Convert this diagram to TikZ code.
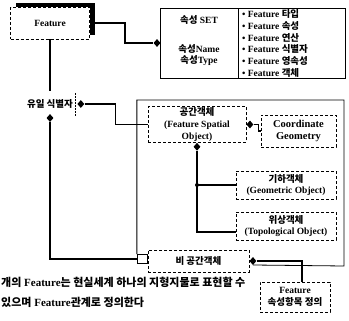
\documentclass[tikz,border=0pt]{standalone}
\usepackage{fontspec}
\setmainfont{Liberation Serif}
\newfontfamily\krfont{Noto Sans CJK KR}
\newcommand{\kr}[1]{{\krfont #1}}
\newcommand{\lblfont}{\fontsize{9.5}{11.8}\selectfont\bfseries}
\newcommand{\notefont}{\fontsize{11}{13}\selectfont\bfseries}
\usetikzlibrary{shapes.geometric}
\begin{document}
\begin{tikzpicture}[x=1pt,y=-1pt,
  box/.style={draw, line width=0.5pt, densely dashed, fill=white, inner sep=1pt, align=center, font=\lblfont},
  abox/.style={draw, line width=0.6pt, inner sep=0pt},
  txt/.style={inner sep=0pt, font=\lblfont},
  conn/.style={line width=1.6pt},
  framel/.style={line width=0.8pt},
  dia/.style={diamond, fill=black, inner sep=0pt, minimum width=7pt, minimum height=8pt},
  jdot/.style={circle, fill=black, inner sep=0pt, minimum size=4pt}]
\useasboundingbox (0,0) rectangle (349,321);

% Feature box with shadow
\fill (16,3) rectangle (95,35);
\node[box, minimum width=79pt, minimum height=32pt] (feat) at (50,23) {Feature};

% attribute set box
\node[abox, minimum width=78pt, minimum height=70pt] (attl) at (199,43) {};
\node[abox, minimum width=107pt, minimum height=70pt] (attr) at (291.5,43) {};
\node[txt] (aset) at (199,20) {\kr{속성} SET};
\node[txt, align=center] (aname) at (199,55) {\kr{속성}Name\\\kr{속성}Type};
\node[txt, anchor=west, align=left] (alist) at (242,43.5) {%
• Feature \kr{타입}\\
• Feature \kr{속성}\\
• Feature \kr{연산}\\
• Feature \kr{식별자}\\
• Feature \kr{영속성}\\
• Feature \kr{객체}};

% unique identifier
\node[txt] (uid) at (50,104) {\kr{유일 식별자}};
\coordinate (uidtop) at (50,91);
\node[dia, anchor=west] (d2) at ([xshift=4pt]uid.east) {};
\draw[densely dotted, line width=0.5pt] ([xshift=-1.5pt]d2.west |- 0,93) -- ([xshift=-1.5pt]d2.west |- 0,117);
\node[dia] (d3) at (50,118) {};
\node[dia, anchor=east] (d1) at ([xshift=1pt]attl.west) {};

% spatial objects
\node[box, minimum width=98pt, minimum height=35pt] (sp) at (197,124.5) {\kr{공간객체}\\(Feature Spatial\\Object)};
\node[dia, anchor=west] (d4) at (sp.east) {};
\node[dia, anchor=north] (d5) at (sp.south) {};
\node[box, font=\fontsize{10.5}{12}\selectfont\bfseries, minimum width=75pt, minimum height=32pt] (cg) at (298.5,131) {Coordinate\\Geometry};
\node[box, minimum width=100pt, minimum height=28pt] (geo) at (286,185) {\kr{기하객체}\\(Geometric Object)};
\node[box, minimum width=100pt, minimum height=28pt] (topo) at (286,226) {\kr{위상객체}\\(Topological Object)};
\node[jdot] (j1) at (sp.south |- geo.west) {};

% non-spatial
\node[box, minimum width=101pt, minimum height=22pt] (nsp) at (198.5,261) {\kr{비 공간객체}};
\node[draw, line width=0.9pt, minimum width=10pt, minimum height=9pt, inner sep=0pt, anchor=east] (jb) at ([yshift=2pt]nsp.west) {};
\node[dia, anchor=west] (d6) at (nsp.east) {};
\node[box, minimum width=70pt, minimum height=30pt] (fdef) at (295,297) {Feature\\\kr{속성항목 정의}};

% frame
\draw[framel] (jb.north west) -- (jb.north west |- 0,100) -- (344,100) -- (344,266) -- ([yshift=-4pt]d6.center);

% connectors
\draw[conn] (feat.south) -- (uidtop);
\draw[conn] (feat.east) -- ++(35,0) |- (d1.west);
\draw[conn] (d3.south) |- (jb.west);
\draw[conn] (d2.east) -- ++(31,0) |- (sp.west);
\draw[conn] (d4.east) -- ++(5,0) |- (cg.west);
\draw[conn] (d5.south) |- ([yshift=-6pt]topo.west);
\draw[conn] (j1.center) -- (geo.west);
\draw[conn] (d6.east) -| ([xshift=7pt]fdef.north);

% note text
\node[inner sep=0pt, font=\notefont, anchor=west] (note1) at (1,282) {\kr{개의} Feature\kr{는 현실세계 하나의 지형지물로 표현할 수}};
\node[inner sep=0pt, font=\notefont, anchor=west] (note2) at (1,302) {\kr{있으며} Feature\kr{관계로 정의한다}};
\end{tikzpicture}
\end{document}
